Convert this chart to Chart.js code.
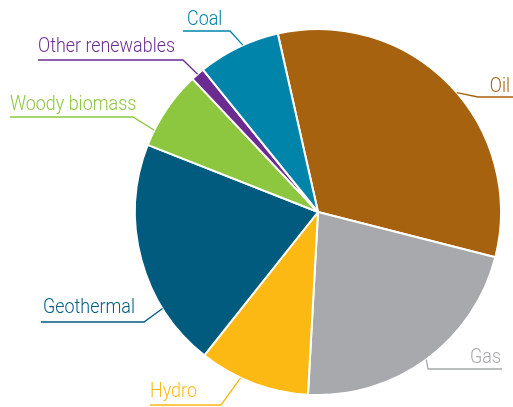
<!DOCTYPE html>
<html>
<head>
  <title>Energy mix</title>
  <script src="https://cdn.jsdelivr.net/npm/chart.js"></script>
  <style>
    html, body { margin: 0; padding: 0; background: #fff; }
    #wrap { width: 513px; height: 407px; }
  </style>
</head>
<body>
<div id="wrap"><canvas id="pieChart" width="513" height="407"></canvas></div>

<script>
  // values (share of total, %)
  const categories = ['Oil', 'Gas', 'Hydro', 'Geothermal', 'Woody biomass', 'Other renewables', 'Coal'];
  const shares = [32.5, 21.9, 9.8, 20.3, 7.0, 1.2, 7.3];
  const colours = ['#a6620e', '#a7a9ac', '#fdb913', '#005b7f', '#8dc63f', '#6a2c91', '#0084a9'];

  // where each callout sits: text pos, underline, and where on the slice the leader hits
  const callouts = [
    { tx: 510, ty: 92,  align: 'right', ux1: 478, ux2: 513, uy: 97,  at: 0.53 },
    { tx: 501, ty: 363, align: 'right', ux1: 428, ux2: 502, uy: 369, at: 0.5 },
    { tx: 150, ty: 397, align: 'left',  ux1: 150, ux2: 221, uy: 405, at: 0.62 },
    { tx: 43,  ty: 313, align: 'left',  ux1: 41,  ux2: 144, uy: 322, at: 0.27 },
    { tx: 10,  ty: 110, align: 'left',  ux1: 10,  ux2: 133, uy: 117, at: 0.2 },
    { tx: 38,  ty: 52,  align: 'left',  ux1: 38,  ux2: 183, uy: 60,  at: 0.5 },
    { tx: 187, ty: 25,  align: 'left',  ux1: 183, ux2: 230, uy: 31,  at: 0.56 }
  ];

  const calloutPlugin = {
    id: 'callouts',
    afterDraw(chart) {
      const ctx = chart.ctx;
      const arcs = chart.getDatasetMeta(0).data;
      ctx.save();
      ctx.font = '300 21px Roboto, "Liberation Sans", sans-serif';
      ctx.textBaseline = 'alphabetic';
      // the original lettering is condensed, squeeze it to the same width
      const squeeze = 137 / ctx.measureText('Other renewables').width;
      ctx.lineWidth = 1.3;
      arcs.forEach(function (arc, i) {
        const c = callouts[i];
        const p = arc.getProps(['x', 'y', 'startAngle', 'endAngle', 'outerRadius'], true);
        const a = p.startAngle + (p.endAngle - p.startAngle) * c.at;
        const ex = p.x + Math.cos(a) * p.outerRadius;
        const ey = p.y + Math.sin(a) * p.outerRadius;
        const near = c.align === 'right' ? c.ux1 : c.ux2;
        const far = c.align === 'right' ? c.ux2 : c.ux1;
        ctx.strokeStyle = colours[i];
        ctx.beginPath();
        ctx.moveTo(far, c.uy);
        ctx.lineTo(near, c.uy);
        ctx.lineTo(ex, ey);
        ctx.stroke();
        ctx.save();
        ctx.translate(c.tx, c.ty);
        ctx.scale(squeeze, 1);
        ctx.fillStyle = colours[i];
        ctx.textAlign = c.align;
        ctx.fillText(categories[i], 0, 0);
        ctx.restore();
      });
      ctx.restore();
    }
  };

  new Chart(document.getElementById('pieChart'), {
    type: 'pie',
    data: {
      labels: categories,
      datasets: [{
        data: shares,
        backgroundColor: colours,
        borderColor: '#ffffff',
        borderWidth: 2
      }]
    },
    options: {
      responsive: false,
      animation: false,
      rotation: -12.7,
      layout: { padding: { left: 134, right: 11, top: 28, bottom: 11 } },
      plugins: {
        legend: { display: false },
        tooltip: { enabled: false }
      }
    },
    plugins: [calloutPlugin]
  });
</script>
</body>
</html>
